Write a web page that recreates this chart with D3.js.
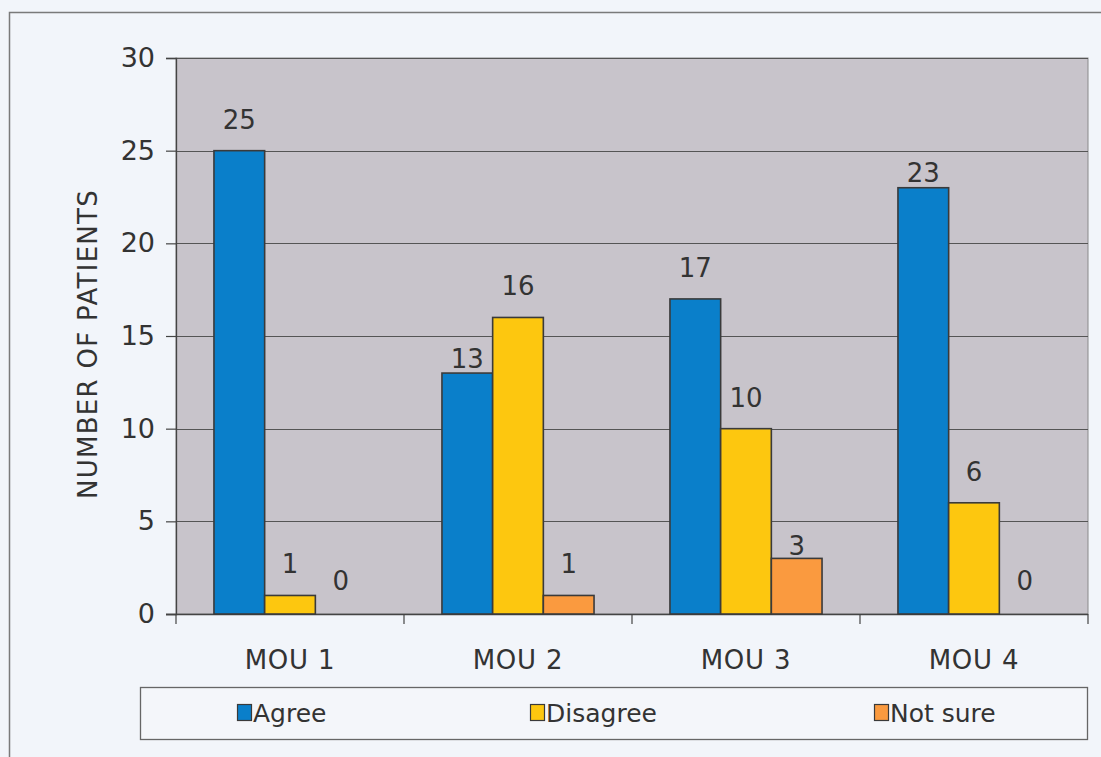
<!DOCTYPE html>
<html>
<head>
<meta charset="utf-8">
<script src="https://cdn.jsdelivr.net/npm/d3@7/dist/d3.min.js"></script>
<style>
  html, body { margin: 0; padding: 0; background: #f2f5fa; }
  svg { display: block; }
  text { font-family: "DejaVu Sans", sans-serif; fill: #333; }
</style>
</head>
<body>
<div id="chart"></div>
<script>
// Survey responses per MOU item
const categories = ["MOU 1", "MOU 2", "MOU 3", "MOU 4"];
const seriesNames = ["Agree", "Disagree", "Not sure"];
const agree    = [25, 13, 17, 23];
const disagree = [1, 16, 10, 6];
const notSure  = [0, 1, 3, 0];
const yTicks = [0, 5, 10, 15, 20, 25, 30];
const yTitle = "NUMBER OF PATIENTS";

const seriesValues = [agree, disagree, notSure];
const colors = ["#0a7fca", "#fdc70f", "#fa9a3f"];

const W = 1101, H = 757;
const plot = { left: 176, right: 1088, top: 58, bottom: 614 };

const svg = d3.select("#chart").append("svg")
  .attr("width", W).attr("height", H);

// outer frame
svg.append("rect")
  .attr("x", 9.5).attr("y", 12.5)
  .attr("width", W + 20).attr("height", H + 20)
  .attr("fill", "#f2f5fa").attr("stroke", "#7a7a7a").attr("stroke-width", 1.5);

const x0 = d3.scaleBand().domain(categories)
  .range([plot.left, plot.right]).paddingInner(0).paddingOuter(0);
const groupW = x0.bandwidth() * 0.667;
const x1 = d3.scaleBand().domain(seriesNames).range([0, groupW]);
const y = d3.scaleLinear().domain([0, 30]).range([plot.bottom, plot.top]);

// plot background
svg.append("rect")
  .attr("x", plot.left).attr("y", plot.top)
  .attr("width", plot.right - plot.left).attr("height", plot.bottom - plot.top)
  .attr("fill", "#c8c4cb").attr("stroke", "#8a8a8a").attr("stroke-width", 1);

// gridlines
svg.append("g").selectAll("line")
  .data(yTicks.filter(t => t > 0))
  .join("line")
  .attr("x1", plot.left).attr("x2", plot.right)
  .attr("y1", d => Math.round(y(d)) + 0.5).attr("y2", d => Math.round(y(d)) + 0.5)
  .attr("stroke", "#555").attr("stroke-width", 1.2);

// y axis
const yAxis = d3.axisLeft(y).tickValues(yTicks).tickSize(10).tickPadding(11);
const gy = svg.append("g").attr("transform", `translate(${plot.left},0)`).call(yAxis);
gy.select(".domain").attr("stroke", "#444").attr("stroke-width", 1.3);
gy.selectAll(".tick line").attr("stroke", "#444").attr("stroke-width", 1.2);
gy.selectAll(".tick text").style("font-size", "27px").attr("fill", "#333")
  .style("font-family", "'DejaVu Sans', sans-serif");

// x axis with ticks at category boundaries
const boundaries = categories.map(c => x0(c)).concat([plot.right]);
const gx = svg.append("g");
gx.append("line")
  .attr("x1", plot.left - 10).attr("x2", plot.right)
  .attr("y1", plot.bottom + 0.5).attr("y2", plot.bottom + 0.5)
  .attr("stroke", "#444").attr("stroke-width", 1.3);
gx.selectAll("line.tk").data(boundaries).join("line").attr("class", "tk")
  .attr("x1", d => d).attr("x2", d => d)
  .attr("y1", plot.bottom).attr("y2", plot.bottom + 10)
  .attr("stroke", "#444").attr("stroke-width", 1.2);
gx.selectAll("text").data(categories).join("text")
  .attr("x", d => x0(d) + x0.bandwidth() / 2)
  .attr("y", plot.bottom + 55)
  .attr("text-anchor", "middle")
  .style("font-size", "26px")
  .style("letter-spacing", "0.8px")
  .text(d => d);

// y title
svg.append("text")
  .attr("transform", `translate(97,${(plot.top + plot.bottom) / 2 + 8}) rotate(-90)`)
  .attr("text-anchor", "middle")
  .style("font-size", "26px")
  .style("letter-spacing", "1.3px")
  .text(yTitle);

// bars
const rows = [];
categories.forEach((c, i) => {
  seriesNames.forEach((s, j) => {
    rows.push({ cat: c, series: s, value: seriesValues[j][i], color: colors[j] });
  });
});
const groupOffset = (x0.bandwidth() - groupW) / 2;

svg.append("g").selectAll("rect")
  .data(rows.filter(d => d.value > 0))
  .join("rect")
  .attr("x", d => x0(d.cat) + groupOffset + x1(d.series))
  .attr("y", d => y(d.value))
  .attr("width", x1.bandwidth())
  .attr("height", d => y(0) - y(d.value))
  .attr("fill", d => d.color)
  .attr("stroke", "#3a3a3a").attr("stroke-width", 1.6);

// value labels; a few sit closer to their bar tops
const labelGap = { "MOU 2|Agree": 5, "MOU 3|Not sure": 3, "MOU 4|Agree": 6 };
svg.append("g").selectAll("text")
  .data(rows)
  .join("text")
  .attr("x", d => x0(d.cat) + groupOffset + x1(d.series) + x1.bandwidth() / 2)
  .attr("y", d => y(d.value) - (labelGap[d.cat + "|" + d.series] ?? (d.value === 0 ? 24 : 22)))
  .attr("text-anchor", "middle")
  .style("font-size", "26px")
  .text(d => d.value);

// legend
const legend = svg.append("g");
legend.append("rect")
  .attr("x", 140.5).attr("y", 687.5).attr("width", 947).attr("height", 52)
  .attr("fill", "#f4f6fa").attr("stroke", "#666").attr("stroke-width", 1.3);
const legendX = [237, 530, 874];
seriesNames.forEach((s, j) => {
  const g = legend.append("g").attr("transform", `translate(${legendX[j]},704)`);
  g.append("rect").attr("x", 0.5).attr("y", 0.5).attr("width", 14).attr("height", 16)
    .attr("fill", colors[j]).attr("stroke", "#3a3a3a").attr("stroke-width", 1.2);
  g.append("text").attr("x", 16).attr("y", 18)
    .style("font-size", "25px")
    .text(s);
});
</script>
</body>
</html>
